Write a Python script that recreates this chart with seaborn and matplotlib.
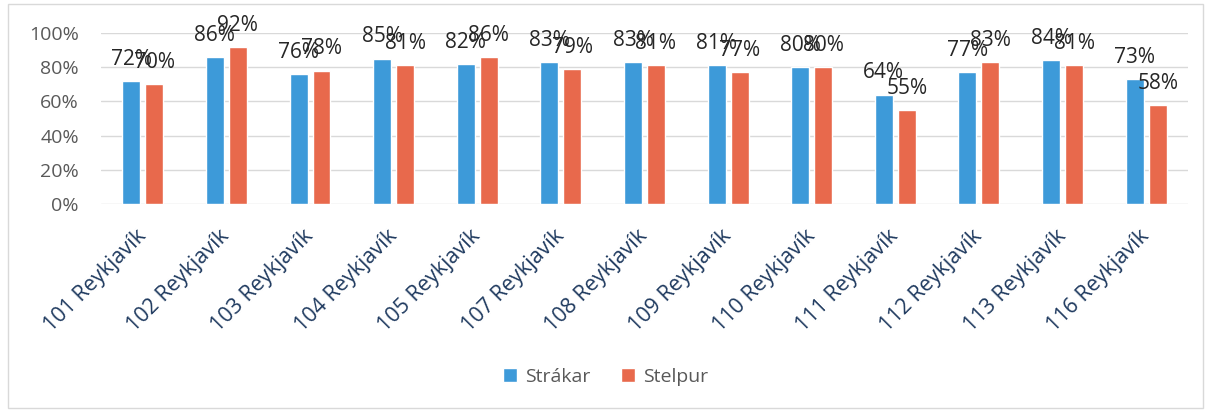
import pandas as pd
import seaborn as sns
import matplotlib.pyplot as plt
from matplotlib.patches import Rectangle

# postal areas and share per group
areas = ["101 Reykjavík", "102 Reykjavík", "103 Reykjavík", "104 Reykjavík",
         "105 Reykjavík", "107 Reykjavík", "108 Reykjavík", "109 Reykjavík",
         "110 Reykjavík", "111 Reykjavík", "112 Reykjavík", "113 Reykjavík",
         "116 Reykjavík"]
strakar = [0.72, 0.86, 0.76, 0.85, 0.82, 0.83, 0.83, 0.81, 0.80, 0.64, 0.77, 0.84, 0.73]
stelpur = [0.70, 0.92, 0.78, 0.81, 0.86, 0.79, 0.81, 0.77, 0.80, 0.55, 0.83, 0.81, 0.58]
groups = ["Strákar", "Stelpur"]
y_ticks = [0, 0.2, 0.4, 0.6, 0.8, 1.0]

df = pd.DataFrame({
    "area": areas * 2,
    "value": strakar + stelpur,
    "group": [groups[0]] * len(areas) + [groups[1]] * len(areas),
})

sns.set_style("white")
plt.rcParams["font.family"] = ["Open Sans", "DejaVu Sans"]

fig = plt.figure(figsize=(12.11, 4.12), dpi=100)
ax = fig.add_axes([0.0834, 0.505, 0.8976, 0.415])

palette = {"Strákar": "#3d9ad9", "Stelpur": "#e8694c"}
sns.barplot(data=df, x="area", y="value", hue="group", order=areas,
            hue_order=groups, palette=palette, width=0.55, gap=0.22,
            saturation=1, ax=ax)

for cont in ax.containers:
    ax.bar_label(cont, fmt="{:.0%}", padding=8, fontsize=15,
                 color="#262626", clip_on=False)

ax.set_ylim(0, 1.0)
ax.set_xlim(-0.5, len(areas) - 0.5)
ax.set_yticks(y_ticks)
ax.set_yticklabels([f"{int(t * 100)}%" for t in y_ticks])
ax.yaxis.grid(True, color="#d9d9d9", linewidth=1)
ax.set_axisbelow(True)
for s in ax.spines.values():
    s.set_visible(False)
ax.tick_params(axis="y", length=0, pad=16, labelsize=14, labelcolor="#595959")
ax.tick_params(axis="x", length=0, pad=21)
ax.set_xticks(range(len(areas)))
ax.set_xticklabels(areas, rotation=45, ha="right", va="center",
                   rotation_mode="anchor", fontsize=15.5, color="#1f3a5f")
ax.set_xlabel("")
ax.set_ylabel("")

ax.legend(loc="center", bbox_to_anchor=(0.5, 0.085), bbox_transform=fig.transFigure,
          ncol=2, frameon=False, fontsize=14, labelcolor="#595959",
          handlelength=0.7, handleheight=0.7, handletextpad=0.4, columnspacing=1.6)

fig.patches.append(Rectangle((0.007, 0.01), 0.986, 0.98, transform=fig.transFigure,
                             fill=False, edgecolor="#d9d9d9", linewidth=1))

fig.savefig("out.png", dpi=100)
